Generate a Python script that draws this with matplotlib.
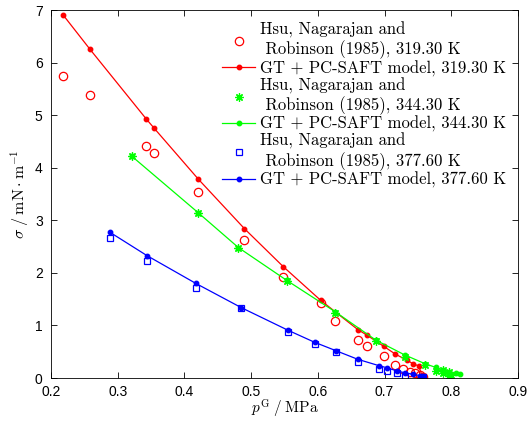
import matplotlib
matplotlib.use("Agg")
import matplotlib.pyplot as plt

plt.rcParams['mathtext.fontset'] = 'cm'
plt.rcParams['font.family'] = ['Liberation Sans', 'DejaVu Sans']

# 319.30 K
exp1_p = [0.2185, 0.2586, 0.3426, 0.3547, 0.421, 0.490, 0.548, 0.604, 0.6255, 0.660, 0.673,
          0.699, 0.716, 0.7275, 0.7375, 0.745, 0.753, 0.757]
exp1_s = [5.75, 5.38, 4.42, 4.28, 3.54, 2.62, 1.93, 1.42, 1.09, 0.72, 0.60,
          0.42, 0.25, 0.17, 0.12, 0.09, 0.06, 0.025]
mod1_p = [0.2185, 0.2586, 0.3426, 0.3547, 0.421, 0.490, 0.548, 0.604, 0.660, 0.673,
          0.699, 0.716, 0.733, 0.743, 0.751, 0.757]
mod1_s = [6.90, 6.25, 4.93, 4.75, 3.78, 2.84, 2.12, 1.48, 0.92, 0.82,
          0.60, 0.456, 0.34, 0.27, 0.23, 0.02]

# 344.30 K
exp2_p = [0.321, 0.421, 0.481, 0.553, 0.626, 0.687, 0.730, 0.761, 0.777, 0.787, 0.788,
          0.796, 0.796, 0.800]
exp2_s = [4.22, 3.14, 2.48, 1.84, 1.24, 0.70, 0.40, 0.24, 0.14, 0.09, 0.15,
          0.04, 0.11, 0.06]
mod2_p = [0.321, 0.421, 0.481, 0.553, 0.626, 0.687, 0.730, 0.761, 0.777, 0.787,
          0.796, 0.807, 0.813]
mod2_s = [4.22, 3.14, 2.48, 1.86, 1.26, 0.72, 0.44, 0.27, 0.20, 0.15,
          0.12, 0.09, 0.075]

# 377.60 K
exp3_p = [0.2886, 0.3436, 0.417, 0.485, 0.555, 0.595, 0.627, 0.660, 0.6915, 0.703,
          0.719, 0.730, 0.757]
exp3_s = [2.67, 2.23, 1.72, 1.33, 0.88, 0.64, 0.49, 0.31, 0.17, 0.13,
          0.09, 0.045, 0.025]
mod3_p = [0.2886, 0.3436, 0.417, 0.485, 0.555, 0.595, 0.627, 0.660, 0.6915, 0.703,
          0.719, 0.730, 0.743, 0.753, 0.758]
mod3_s = [2.77, 2.33, 1.80, 1.34, 0.91, 0.68, 0.52, 0.355, 0.235, 0.196,
          0.133, 0.10, 0.07, 0.045, 0.04]

exp_label = "Hsu, Nagarajan and\n Robinson (1985), {} K"
mod_label = "GT + PC-SAFT model, {} K"

fig = plt.figure(figsize=(5.32, 4.21), dpi=100)
ax = fig.add_axes([51 / 532, 1 - 378 / 421, 467 / 532, 368 / 421])

sets = [(exp1_p, exp1_s, mod1_p, mod1_s, (1, 0, 0), 'o', '319.30'),
        (exp2_p, exp2_s, mod2_p, mod2_s, (0, 1, 0), (8, 2, 0), '344.30'),
        (exp3_p, exp3_s, mod3_p, mod3_s, (0, 0, 1), 's', '377.60')]

for ep, es, mp, ms, c, mk, T in sets:
    ax.plot(ep, es, linestyle='none', marker=mk, ms=6 if mk != 's' else 5,
            mfc='none', mec=c, mew=0.9, label=exp_label.format(T))
    ax.plot(mp, ms, color=c, lw=0.9, marker='o', ms=3.2, mfc=c, mec=c,
            label=mod_label.format(T))

ax.set_xlim(0.2, 0.9)
ax.set_ylim(0, 7)
ax.set_xticks([0.2, 0.3, 0.4, 0.5, 0.6, 0.7, 0.8, 0.9])
ax.set_xticklabels(['0.2', '0.3', '0.4', '0.5', '0.6', '0.7', '0.8', '0.9'])
ax.set_yticks(range(8))
ax.tick_params(direction='in', top=True, right=True, labelsize=10, length=4, width=0.6)
ax.tick_params(axis='x', pad=5)
ax.tick_params(axis='y', pad=6)
for s in ax.spines.values():
    s.set_linewidth(0.6)

ax.set_xlabel(r'$p^{\mathrm{G}}\;/\;\mathrm{MPa}$', fontsize=11)
ax.xaxis.set_label_coords(0.5, -0.054)
ax.set_ylabel(r'$\sigma\;/\;\mathrm{mN}\cdot\mathrm{m}^{-1}$', fontsize=11.5, labelpad=3)

leg = ax.legend(loc='upper right', bbox_to_anchor=(1.0, 1.0), frameon=False,
                prop={'family': 'cmr10', 'size': 12}, handlelength=2.0,
                handletextpad=0.3, labelspacing=0.05, borderpad=0.3, borderaxespad=0.4)

fig.savefig('out.png', dpi=100)
